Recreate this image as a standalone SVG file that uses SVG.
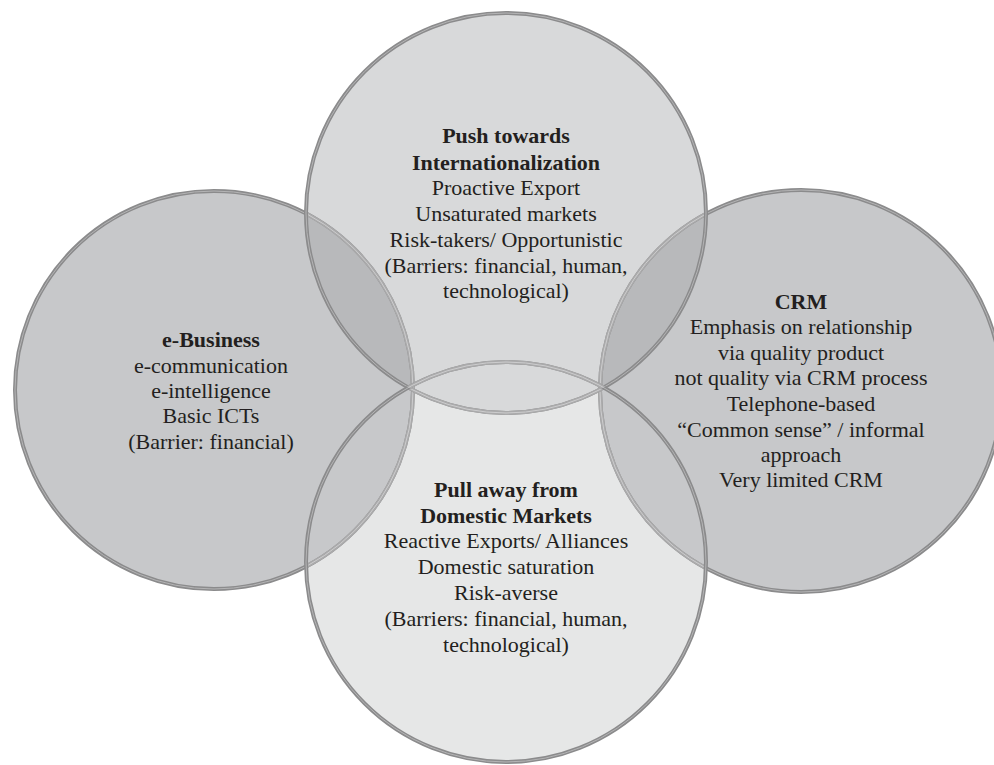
<svg xmlns="http://www.w3.org/2000/svg" width="994" height="765" viewBox="0 0 994 765">
<style>
.t{font-family:"Liberation Serif","Times New Roman",serif;font-size:22px;fill:#231f20;text-anchor:middle}
.b{font-weight:bold}
.sd{fill:none;stroke:#8b8b8c;stroke-width:4}
.si{fill:none;stroke:#b4b4b5;stroke-width:1}
.ld{fill:none;stroke:#aaaaab;stroke-width:4}
.li{fill:none;stroke:#cdcdce;stroke-width:1}
</style>
<defs>
<clipPath id="cT"><circle cx="506" cy="213" r="200"/></clipPath>
<clipPath id="cB"><circle cx="506" cy="562" r="200"/></clipPath>
</defs>
<rect width="994" height="765" fill="#ffffff"/>
<g id="fills">
<circle cx="506" cy="562" r="200" fill="#e6e7e7"/>
<circle cx="214" cy="390" r="199" fill="#c7c8ca"/>
<circle cx="801" cy="391" r="201" fill="#c7c8ca"/>
<circle cx="506" cy="213" r="200" fill="#d8d9da"/>
<g clip-path="url(#cT)">
<circle cx="214" cy="390" r="199" fill="#b8b9bb"/>
<circle cx="801" cy="391" r="201" fill="#b8b9bb"/>
</g>
</g>
<g id="outlines">
<circle class="sd" cx="214" cy="390" r="199"/>
<circle class="si" cx="214" cy="390" r="199"/>
<circle class="sd" cx="801" cy="391" r="201"/>
<circle class="si" cx="801" cy="391" r="201"/>
<g clip-path="url(#cT)">
<circle class="ld" cx="214" cy="390" r="199"/>
<circle class="li" cx="214" cy="390" r="199"/>
<circle class="ld" cx="801" cy="391" r="201"/>
<circle class="li" cx="801" cy="391" r="201"/>
</g>
<g clip-path="url(#cB)">
<circle class="ld" cx="214" cy="390" r="199"/>
<circle class="li" cx="214" cy="390" r="199"/>
<circle class="ld" cx="801" cy="391" r="201"/>
<circle class="li" cx="801" cy="391" r="201"/>
</g>
<circle class="sd" cx="506" cy="213" r="200"/>
<circle class="si" cx="506" cy="213" r="200"/>
<g clip-path="url(#cB)">
<circle class="ld" cx="506" cy="213" r="200"/>
<circle class="li" cx="506" cy="213" r="200"/>
</g>
<circle class="sd" cx="506" cy="562" r="200"/>
<circle class="si" cx="506" cy="562" r="200"/>
<g clip-path="url(#cT)">
<circle class="ld" cx="506" cy="562" r="200"/>
<circle class="li" cx="506" cy="562" r="200"/>
</g>
</g>
<g id="ebusiness">
<text class="t b" x="211" y="347">e-Business</text>
<text class="t" x="211" y="373">e-communication</text>
<text class="t" x="211" y="398">e-intelligence</text>
<text class="t" x="211" y="423">Basic ICTs</text>
<text class="t" x="211" y="449">(Barrier: financial)</text>
</g>
<g id="push">
<text class="t b" x="506" y="143">Push towards</text>
<text class="t b" x="506" y="170">Internationalization</text>
<text class="t" x="506" y="195">Proactive Export</text>
<text class="t" x="506" y="221">Unsaturated markets</text>
<text class="t" x="506" y="247">Risk-takers/ Opportunistic</text>
<text class="t" x="506" y="273">(Barriers: financial, human,</text>
<text class="t" x="506" y="298">technological)</text>
</g>
<g id="crm">
<text class="t b" x="801" y="309">CRM</text>
<text class="t" x="801" y="334">Emphasis on relationship</text>
<text class="t" x="801" y="360">via quality product</text>
<text class="t" x="801" y="385">not quality via CRM process</text>
<text class="t" x="801" y="411">Telephone-based</text>
<text class="t" x="801" y="437">“Common sense” / informal</text>
<text class="t" x="801" y="462">approach</text>
<text class="t" x="801" y="487">Very limited CRM</text>
</g>
<g id="pull">
<text class="t b" x="506" y="497">Pull away from</text>
<text class="t b" x="506" y="523">Domestic Markets</text>
<text class="t" x="506" y="548">Reactive Exports/ Alliances</text>
<text class="t" x="506" y="574">Domestic saturation</text>
<text class="t" x="506" y="600">Risk-averse</text>
<text class="t" x="506" y="626">(Barriers: financial, human,</text>
<text class="t" x="506" y="652">technological)</text>
</g>
</svg>
